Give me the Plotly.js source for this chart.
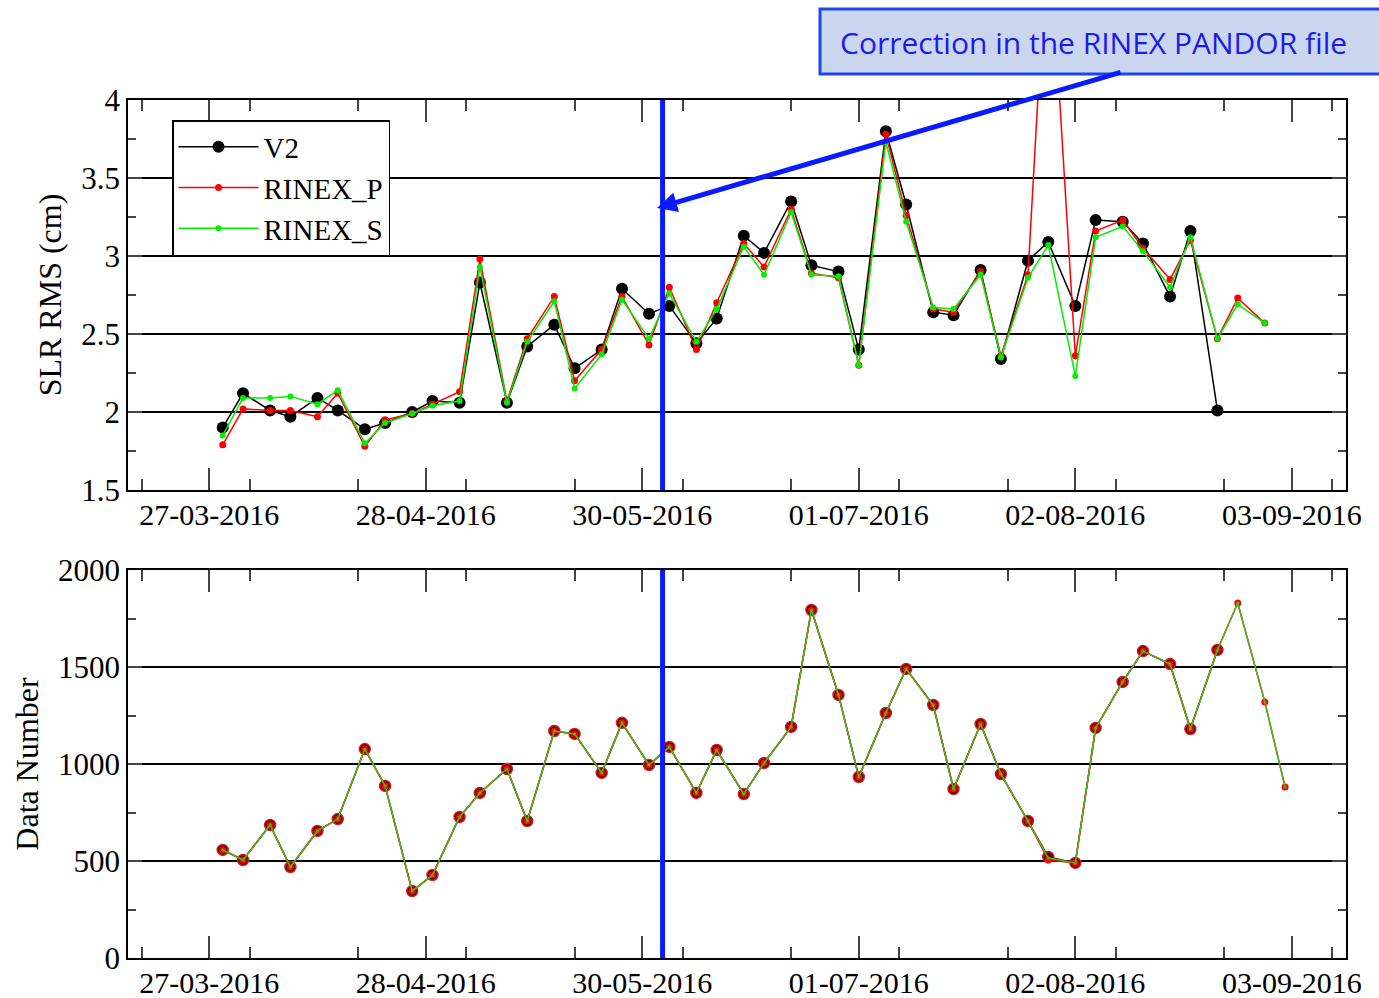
<!DOCTYPE html>
<html>
<head>
<meta charset="utf-8">
<script src="https://cdn.plot.ly/plotly-3.0.1.min.js"></script>
<style>html,body{margin:0;padding:0;background:#fff}#plot{width:1379px;height:998px}</style>
</head>
<body>
<div id="plot"></div>
<script>
// sampling dates (twice a week)
const dates = ['2016-03-29','2016-04-01','2016-04-05','2016-04-08','2016-04-12','2016-04-15','2016-04-19','2016-04-22',
  '2016-04-26','2016-04-29','2016-05-03','2016-05-06','2016-05-10','2016-05-13','2016-05-17','2016-05-20',
  '2016-05-24','2016-05-27','2016-05-31','2016-06-03','2016-06-07','2016-06-10','2016-06-14','2016-06-17',
  '2016-06-21','2016-06-24','2016-06-28','2016-07-01','2016-07-05','2016-07-08','2016-07-12','2016-07-15',
  '2016-07-19','2016-07-22','2016-07-26','2016-07-29','2016-08-02','2016-08-05','2016-08-09','2016-08-12',
  '2016-08-16','2016-08-19','2016-08-23','2016-08-26','2016-08-30','2016-09-02'];

// SLR RMS (cm)
const rmsV2 = [1.90,2.12,2.01,1.97,2.09,2.01,1.89,1.93,2.00,2.07,2.06,2.83,2.06,2.42,2.56,2.28,2.40,2.79,2.63,2.68,
  2.44,2.60,3.13,3.02,3.35,2.94,2.90,2.40,3.80,3.33,2.64,2.62,2.91,2.34,2.97,3.09,2.68,3.23,3.22,3.08,2.74,3.16,2.01];
const rmsP = [1.79,2.02,2.01,2.01,1.97,2.12,1.78,1.95,1.99,2.05,2.13,2.98,2.07,2.47,2.74,2.20,2.40,2.74,2.43,2.80,
  2.40,2.70,3.08,2.93,3.30,2.89,2.86,2.30,3.78,3.26,2.66,2.64,2.90,2.36,2.88,5.20,2.36,3.16,3.23,3.05,2.85,3.10,2.47,2.73,2.57];
const rmsS = [1.85,2.09,2.09,2.10,2.05,2.14,1.80,1.93,1.99,2.04,2.07,2.93,2.06,2.45,2.71,2.15,2.37,2.72,2.47,2.76,
  2.45,2.66,3.06,2.88,3.28,2.88,2.87,2.30,3.73,3.22,2.67,2.66,2.88,2.35,2.86,3.07,2.23,3.12,3.19,3.03,2.80,3.12,2.47,2.69,2.57];

// Data number
const numV2 = [557,505,686,469,655,716,1077,887,345,428,727,851,974,706,1170,1155,954,1212,995,1088,851,1072,845,
  1005,1191,1794,1356,933,1263,1490,1304,871,1206,948,706,521,490,1186,1423,1582,1515,1180,1588];
const numP = [557,505,686,469,655,716,1077,887,345,428,727,851,974,706,1170,1155,954,1212,995,1088,851,1072,845,
  1005,1191,1794,1356,933,1263,1490,1304,871,1206,948,706,505,490,1186,1423,1582,1515,1180,1588,1830,1320,881];
const numS = [557,505,686,469,655,716,1077,887,345,428,727,851,974,706,1170,1155,954,1212,995,1088,851,1072,845,
  1005,1191,1794,1356,933,1263,1490,1304,871,1206,948,706,515,490,1186,1423,1582,1515,1180,1588,1830,1320,881];

const W = 1379, H = 998;
const serif = 'Liberation Serif, DejaVu Serif, serif';

function tr(x, y, name, color, size, ax, show) {
  return {x: x, y: y, name: name, type: 'scatter', mode: 'lines+markers', xaxis: ax[0], yaxis: ax[1],
    line: {color: color, width: 1.5}, marker: {color: color, size: size}, showlegend: show};
}

const data = [
  tr(dates.slice(0, rmsV2.length), rmsV2, 'V2', 'black', 12, ['x', 'y'], true),
  tr(dates.slice(0, rmsP.length), rmsP, 'RINEX_P', '#ff0000', 7, ['x', 'y'], true),
  tr(dates.slice(0, rmsS.length), rmsS, 'RINEX_S', '#00ee00', 6, ['x', 'y'], true),
  tr(dates.slice(0, numV2.length), numV2, 'V2', '#5a0000', 11, ['x2', 'y2'], false),
  tr(dates.slice(0, numP.length), numP, 'RINEX_P', '#ff0000', 7, ['x2', 'y2'], false),
  tr(dates.slice(0, numS.length), numS, 'RINEX_S', '#44bb22', 3, ['x2', 'y2'], false)
];
data[3].marker.line = {color: '#cc2222', width: 1.5};

const xbase = {
  type: 'date', range: ['2016-03-15', '2016-09-11'], tick0: '2016-03-27', dtick: 32 * 86400000,
  tickformat: '%d-%m-%Y', ticks: 'inside', ticklen: 22, tickwidth: 2, tickcolor: '#444',
  minor: {dtick: 16 * 86400000, ticks: 'inside', ticklen: 11, tickcolor: '#444', tickwidth: 1.5},
  showgrid: false, showline: true, linecolor: 'black', linewidth: 1.5, mirror: 'allticks',
  tickfont: {family: serif, size: 30, color: 'black'}, ticklabelstandoff: -3, domain: [128 / W, 1346 / W]
};
const ybase = {
  ticks: 'inside', ticklen: 14, tickwidth: 2, tickcolor: '#444', showline: true, linecolor: 'black',
  linewidth: 1.5, mirror: 'allticks', showgrid: true, gridcolor: 'black', gridwidth: 1.5, zeroline: false,
  tickfont: {family: serif, size: 31, color: 'black'}
};

const layout = {
  width: W, height: H, margin: {l: 0, r: 0, t: 0, b: 0}, paper_bgcolor: 'white', plot_bgcolor: 'white',
  xaxis: Object.assign({}, xbase, {anchor: 'y'}),
  yaxis: Object.assign({}, ybase, {range: [1.5, 4], dtick: 0.5, anchor: 'x', domain: [1 - 490 / H, 1 - 100 / H],
    minor: {dtick: 0.25, ticks: 'inside', ticklen: 8, tickcolor: '#444'},
    title: {text: 'SLR RMS (cm)', font: {family: serif, size: 32, color: 'black'}, standoff: 10}}),
  xaxis2: Object.assign({}, xbase, {anchor: 'y2'}),
  yaxis2: Object.assign({}, ybase, {range: [0, 2000], dtick: 500, anchor: 'x2', domain: [1 - 958 / H, 1 - 570 / H],
    minor: {dtick: 250, ticks: 'inside', ticklen: 8, tickcolor: '#444'},
    title: {text: 'Data Number', font: {family: serif, size: 32, color: 'black'}, standoff: 10}}),
  legend: {x: 172 / W, y: 1 - 120 / H, xanchor: 'left', yanchor: 'top', bordercolor: 'black', borderwidth: 1.5,
    bgcolor: 'white', font: {family: serif, size: 29, color: 'black'}, itemwidth: 80, tracegroupgap: 0},
  shapes: [
    {type: 'line', xref: 'x', yref: 'paper', x0: '2016-06-02', x1: '2016-06-02', y0: 1 - 490 / H, y1: 1 - 100 / H,
      line: {color: '#0a1aff', width: 5}},
    {type: 'line', xref: 'x', yref: 'paper', x0: '2016-06-02', x1: '2016-06-02', y0: 1 - 958 / H, y1: 1 - 570 / H,
      line: {color: '#0a1aff', width: 5}},
    {type: 'rect', xref: 'paper', yref: 'paper', x0: 820 / W, x1: 1.01, y0: 1 - 74 / H, y1: 1 - 9 / H,
      fillcolor: '#c9d6ee', line: {color: '#2244ee', width: 3}}
  ],
  annotations: [
    {xref: 'paper', yref: 'paper', x: 838 / W, y: 1 - 42 / H, xanchor: 'left', yanchor: 'middle', showarrow: false,
      text: 'Correction in the RINEX PANDOR file', font: {family: 'Open Sans, sans-serif', size: 30, color: '#1a1aee'}},
    {xref: 'paper', yref: 'paper', x: 657 / W, y: 1 - 208 / H, axref: 'pixel', ayref: 'pixel', ax: 465, ay: -136,
      showarrow: true, arrowhead: 2, arrowsize: 0.8, arrowwidth: 5, arrowcolor: '#0a1aff', text: ''}
  ]
};

Plotly.newPlot('plot', data, layout, {displayModeBar: false});
</script>
</body>
</html>
